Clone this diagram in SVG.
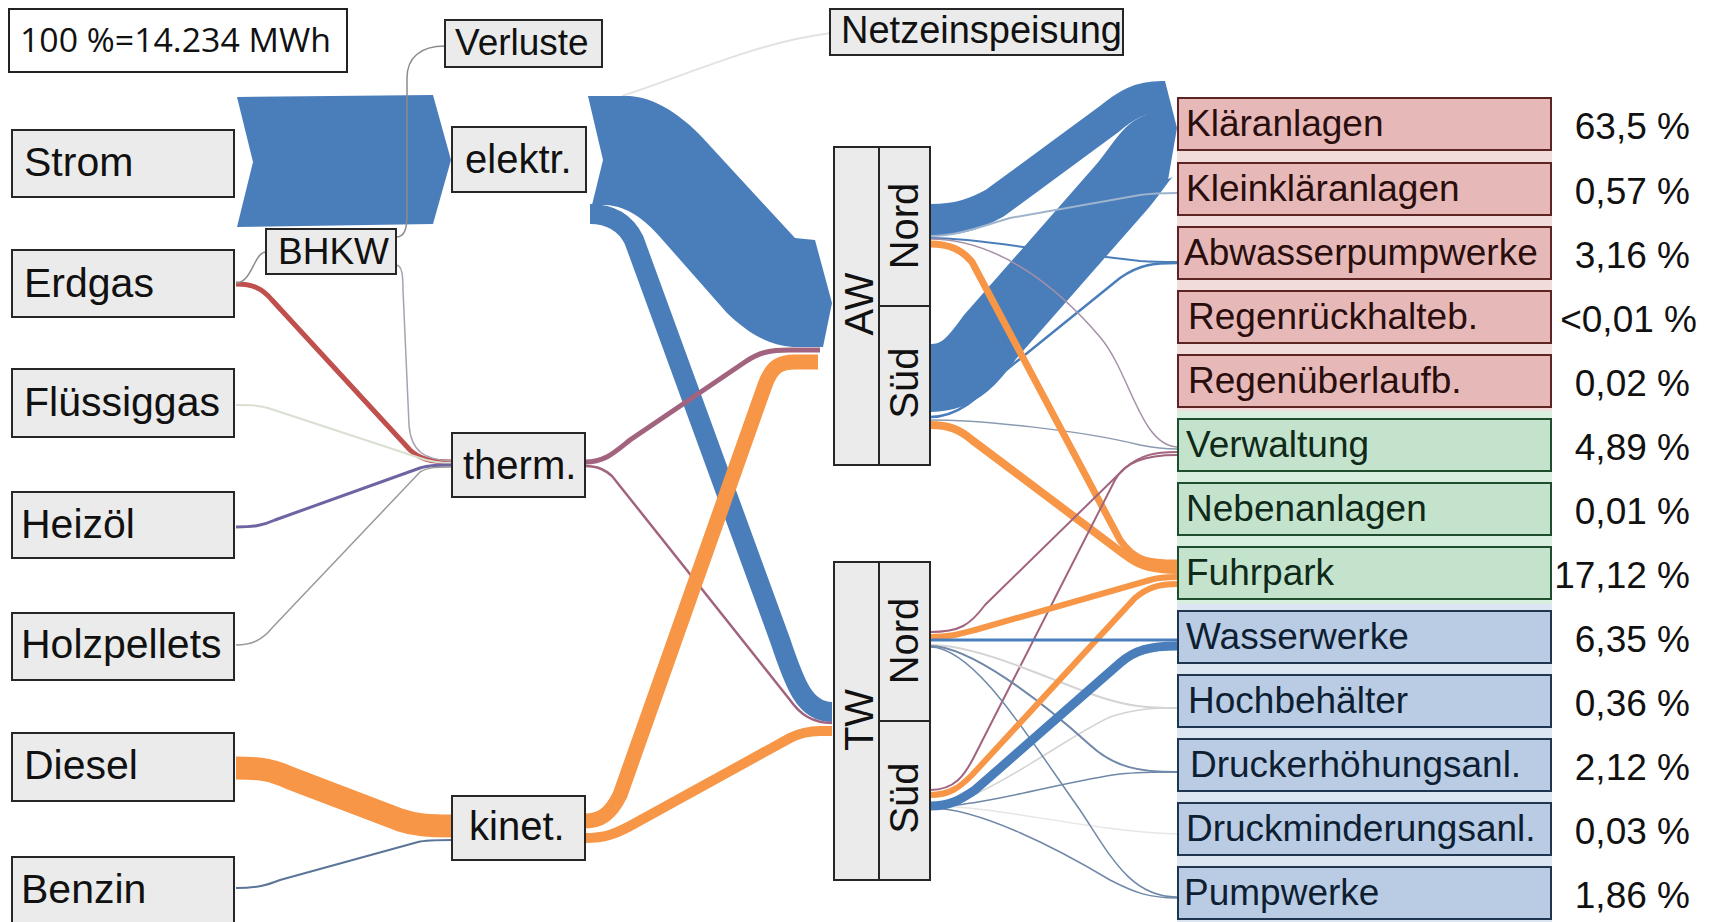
<svg xmlns="http://www.w3.org/2000/svg" width="1711" height="922" viewBox="0 0 1711 922">
<style>
.box{fill:#ebebeb;stroke:#262626;stroke-width:2}
.t{font-family:"Liberation Sans",Arial,sans-serif;fill:#111}
.l41{font-size:41px}
.l40{font-size:40px}
.l37{font-size:37px}
.l38{font-size:38px}
.rot{font-family:"Liberation Sans",Arial,sans-serif;font-size:40px;fill:#111;text-anchor:middle}
.pct{font-family:"Liberation Sans",Arial,sans-serif;font-size:37px;fill:#111;text-anchor:end}
.red{fill:#e6b9b8;stroke:#5c2422;stroke-width:2}
.grn{fill:#c4e3cd;stroke:#1f4d2e;stroke-width:2}
.blu{fill:#b9cce4;stroke:#1f3550;stroke-width:2}
.tr{fill:#2a0e0e}.tg{fill:#0f2a18}.tb{fill:#0f1f33}
.fb{fill:#4a7ebb}
.fl{fill:none;stroke-linecap:butt}
.b{stroke:#4a7ebb}.o{stroke:#f79646}.m{stroke:#a2637f}.r{stroke:#c0504d}
.g{stroke:#8c8c8c}.lg{stroke:#d4d4d4}.sb{stroke:#6f88a8}
</style>
<rect width="1711" height="922" fill="#fff"/>
<g id="group-bands">
<rect x="1177" y="98" width="375" height="313" fill="#f2dcdb"/>
<rect x="1177" y="411" width="375" height="193" fill="#d8eedf"/>
<rect x="1177" y="604" width="375" height="318" fill="#dce6f2"/>
</g>
<g id="connectors">
<polygon class="fb" points="237,97 433,95 451,160 433,224 237,227 253,162"/>
<path class="fl" stroke="#e2e2e2" stroke-width="2" d="M622,96 C700,70 760,42 831,33"/>
<path class="fb" d="M588,96 L630,96 C660,98 690,122 712,148 L795,238 L815,240 L832,303 L823,347 L793,347 C765,345 745,330 727,313 L660,237 C645,220 628,206 605,205 L592,205 L603,160 Z"/>
<path class="fl b" stroke-width="20" d="M590,214 C610,214 625,222 634,240 L780,640 C795,685 805,712 832,712"/>
<path class="fl m" stroke-width="5" d="M585,462 C605,462 615,452 630,440 L745,362 C760,352 770,350 790,350 L820,350"/>
<path class="fl m" stroke-width="2.5" d="M585,466 C598,466 605,470 612,476 L790,700 C800,714 812,723 832,723"/>
<path class="fl o" stroke-width="15" d="M585,821 C600,821 610,815 620,795 L765,385 C772,366 780,362 795,362 L818,362"/>
<path class="fl o" stroke-width="10" d="M585,838 C605,838 615,834 630,826 L790,738 C800,733 808,731 820,731 L832,731"/>
<path class="fl r" stroke-width="5" d="M236,284 C252,284 262,288 272,300 L410,450 C420,459 430,462 452,462"/>
<path class="fl" stroke="#d9e0d2" stroke-width="2" d="M236,405 C250,405 258,405 268,408 L420,458 C428,461 438,463 452,463"/>
<path class="fl" stroke="#6f63a3" stroke-width="3" d="M236,527 C252,527 262,526 275,520 L420,468 C428,465 438,465 452,465"/>
<path class="fl" stroke="#9a9a9a" stroke-width="1.5" d="M236,645 C252,645 262,640 272,628 L420,472 C428,467 438,467 452,467"/>
<path class="fl o" stroke-width="23" d="M236,768 C262,768 272,770 290,778 L400,820 C415,825 428,826 452,826"/>
<path class="fl" stroke="#5b7596" stroke-width="2" d="M236,888 C255,888 265,886 280,880 L418,842 C426,840 436,840 452,840"/>
<path class="fl g" stroke-width="1.5" d="M236,283 C252,283 254,252 266,252"/>
<path class="fl g" stroke-width="1.5" d="M396,237 C404,237 407,230 407,215 L407,78 C407,58 420,46 445,46"/>
<path class="fl" stroke="#a9a0b0" stroke-width="1.5" d="M396,265 C402,265 403,275 403,290 L409,425 C411,452 425,460 452,461"/>
<path class="fl b" stroke-width="32" d="M931,220 C958,220 975,214 995,203 L1108,120 C1127,104 1140,97 1162,97"/>
<path class="fl b" stroke-width="68" d="M931,378 C960,378 975,358 990,337 L1120,189 C1140,166 1148,146 1162,146"/>
<polygon class="fb" points="1161,81 1165,81 1177,128 1168,180 1161,180"/>
<path class="fl" stroke="#9eb4cc" stroke-width="2" d="M930,236 C960,236 985,225 1010,218 L1140,195 C1155,193 1165,193 1177,193"/>
<path class="fl b" stroke-width="2" d="M930,238 C960,238 990,242 1030,248 L1140,261 C1155,262 1165,262 1177,262"/>
<path class="fl b" stroke-width="2.5" d="M930,417 C960,417 980,395 1000,375 L1120,278 C1140,264 1155,263 1177,263"/>
<path class="fl" stroke="#a590a8" stroke-width="1.5" d="M930,239 C1000,239 1060,290 1100,337 C1130,372 1140,445 1177,447"/>
<path class="fl" stroke="#8a9ab0" stroke-width="1.5" d="M930,420 C980,420 1080,430 1140,445 C1155,448 1165,449 1177,449"/>
<path class="fl o" stroke-width="7" d="M930,244 C950,244 962,250 972,262 L1120,540 C1135,562 1150,563 1177,563"/>
<path class="fl o" stroke-width="8" d="M930,425 C950,425 960,430 972,440 L1125,555 C1140,567 1155,570 1177,570"/>
<path class="fl m" stroke-width="2" d="M930,632 C960,632 970,625 985,605 L1125,468 C1140,455 1155,452 1177,452"/>
<path class="fl m" stroke-width="2" d="M930,790 C955,790 965,775 975,755 L1115,480 C1125,462 1145,455 1177,455"/>
<path class="fl lg" stroke-width="2" d="M930,645 C980,645 1050,680 1100,697 C1130,707 1150,708 1177,708"/>
<path class="fl lg" stroke-width="1.5" d="M930,806 C980,806 1060,740 1110,717 C1135,709 1150,708 1177,708"/>
<path class="fl" stroke="#e6e6e6" stroke-width="1.5" d="M930,806 C1000,806 1080,830 1177,834"/>
<path class="fl sb" stroke-width="2" d="M930,646 C970,646 1040,700 1090,745 C1115,768 1140,772 1177,772"/>
<path class="fl sb" stroke-width="1.5" d="M930,807 C980,807 1070,780 1120,774 C1140,772 1155,772 1177,772"/>
<path class="fl sb" stroke-width="1.5" d="M930,647 C975,647 1030,740 1080,810 C1110,855 1130,897 1177,897"/>
<path class="fl sb" stroke-width="1.5" d="M930,808 C980,808 1060,850 1110,880 C1135,893 1150,898 1177,898"/>
<path class="fl o" stroke-width="6" d="M930,637 C950,637 960,634 975,630 L1150,580 C1160,577 1168,577 1177,577"/>
<path class="fl o" stroke-width="6" d="M930,795 C950,795 960,787 972,775 L1135,598 C1148,587 1160,584 1177,584"/>
<path class="fl b" stroke-width="3" d="M930,640 L1177,640"/>
<path class="fl b" stroke-width="9" d="M930,806 C950,806 960,800 975,790 L1120,663 C1135,650 1150,646 1177,646"/>
</g>
<g id="legend"><rect x="9" y="9" width="338" height="63" fill="#fff" stroke="#222" stroke-width="2"/><text x="20" y="52" font-family="'Open Sans','Liberation Sans',sans-serif" font-size="32" fill="#111" textLength="311" lengthAdjust="spacingAndGlyphs">100 %=14.234 MWh</text></g>
<g id="n-strom"><rect class="box" x="12" y="130" width="222" height="67"/><text class="t l41" x="24" y="176">Strom</text></g>
<g id="n-erdgas"><rect class="box" x="12" y="250" width="222" height="67"/><text class="t l41" x="24" y="297">Erdgas</text></g>
<g id="n-fluessiggas"><rect class="box" x="12" y="369" width="222" height="68"/><text class="t l41" x="24" y="416">Flüssiggas</text></g>
<g id="n-heizoel"><rect class="box" x="12" y="492" width="222" height="66"/><text class="t l41" x="21" y="538">Heizöl</text></g>
<g id="n-holzpellets"><rect class="box" x="12" y="613" width="222" height="67"/><text class="t l41" x="21" y="658">Holzpellets</text></g>
<g id="n-diesel"><rect class="box" x="12" y="733" width="222" height="68"/><text class="t l41" x="24" y="779">Diesel</text></g>
<g id="n-benzin"><rect class="box" x="12" y="857" width="222" height="70"/><text class="t l41" x="21" y="903">Benzin</text></g>
<g id="n-verluste"><rect class="box" x="445" y="20" width="157" height="47"/><text class="t l37" x="455" y="55">Verluste</text></g>
<g id="n-bhkw"><rect class="box" x="266" y="229" width="130" height="45"/><text class="t l37" x="278" y="264">BHKW</text></g>
<g id="n-elektr"><rect class="box" x="452" y="127" width="134" height="65"/><text class="t l40" x="465" y="173">elektr.</text></g>
<g id="n-therm"><rect class="box" x="452" y="433" width="133" height="64"/><text class="t l40" x="463" y="479">therm.</text></g>
<g id="n-kinet"><rect class="box" x="452" y="796" width="133" height="64"/><text class="t l40" x="469" y="840">kinet.</text></g>
<g id="n-netz"><rect class="box" x="830" y="9" width="293" height="46"/><text class="t l38" x="841" y="43">Netzeinspeisung</text></g>
<g id="n-aw"><rect class="box" x="834" y="147" width="96" height="318"/><line x1="879" y1="147" x2="879" y2="465" stroke="#262626" stroke-width="2"/><line x1="879" y1="306" x2="930" y2="306" stroke="#262626" stroke-width="2"/>
<text class="rot" transform="translate(873,304) rotate(-90)">AW</text>
<text class="rot" transform="translate(918,226) rotate(-90)">Nord</text>
<text class="rot" transform="translate(918,383) rotate(-90)">Süd</text></g>
<g id="n-tw"><rect class="box" x="834" y="562" width="96" height="318"/><line x1="879" y1="562" x2="879" y2="880" stroke="#262626" stroke-width="2"/><line x1="879" y1="721" x2="930" y2="721" stroke="#262626" stroke-width="2"/>
<text class="rot" transform="translate(873,720) rotate(-90)">TW</text>
<text class="rot" transform="translate(918,641) rotate(-90)">Nord</text>
<text class="rot" transform="translate(918,798) rotate(-90)">Süd</text></g>
<g id="n-klaeranlagen"><rect class="red" x="1178" y="98" width="373" height="52"/><text class="t l37 tr" x="1186" y="136">Kläranlagen</text><text class="pct" x="1690" y="139">63,5 %</text></g>
<g id="n-kleinklaeranlagen"><rect class="red" x="1178" y="163" width="373" height="52"/><text class="t l37 tr" x="1186" y="201">Kleinkläranlagen</text><text class="pct" x="1690" y="204">0,57 %</text></g>
<g id="n-abwasserpumpwerke"><rect class="red" x="1178" y="227" width="373" height="52"/><text class="t l37 tr" x="1184" y="265">Abwasserpumpwerke</text><text class="pct" x="1690" y="268">3,16 %</text></g>
<g id="n-regenrueckhalteb"><rect class="red" x="1178" y="291" width="373" height="52"/><text class="t l37 tr" x="1188" y="329">Regenrückhalteb.</text><text class="pct" x="1697" y="332">&lt;0,01 %</text></g>
<g id="n-regenueberlaufb"><rect class="red" x="1178" y="355" width="373" height="52"/><text class="t l37 tr" x="1188" y="393">Regenüberlaufb.</text><text class="pct" x="1690" y="396">0,02 %</text></g>
<g id="n-verwaltung"><rect class="grn" x="1178" y="419" width="373" height="52"/><text class="t l37 tg" x="1186" y="457">Verwaltung</text><text class="pct" x="1690" y="460">4,89 %</text></g>
<g id="n-nebenanlagen"><rect class="grn" x="1178" y="483" width="373" height="52"/><text class="t l37 tg" x="1186" y="521">Nebenanlagen</text><text class="pct" x="1690" y="524">0,01 %</text></g>
<g id="n-fuhrpark"><rect class="grn" x="1178" y="547" width="373" height="52"/><text class="t l37 tg" x="1186" y="585">Fuhrpark</text><text class="pct" x="1690" y="588">17,12 %</text></g>
<g id="n-wasserwerke"><rect class="blu" x="1178" y="611" width="373" height="52"/><text class="t l37 tb" x="1186" y="649">Wasserwerke</text><text class="pct" x="1690" y="652">6,35 %</text></g>
<g id="n-hochbehaelter"><rect class="blu" x="1178" y="675" width="373" height="52"/><text class="t l37 tb" x="1188" y="713">Hochbehälter</text><text class="pct" x="1690" y="716">0,36 %</text></g>
<g id="n-druckerhoehungsanl"><rect class="blu" x="1178" y="739" width="373" height="52"/><text class="t l37 tb" x="1190" y="777">Druckerhöhungsanl.</text><text class="pct" x="1690" y="780">2,12 %</text></g>
<g id="n-druckminderungsanl"><rect class="blu" x="1178" y="803" width="373" height="52"/><text class="t l37 tb" x="1186" y="841">Druckminderungsanl.</text><text class="pct" x="1690" y="844">0,03 %</text></g>
<g id="n-pumpwerke"><rect class="blu" x="1178" y="867" width="373" height="52"/><text class="t l37 tb" x="1184" y="905">Pumpwerke</text><text class="pct" x="1690" y="908">1,86 %</text></g>
</svg>
